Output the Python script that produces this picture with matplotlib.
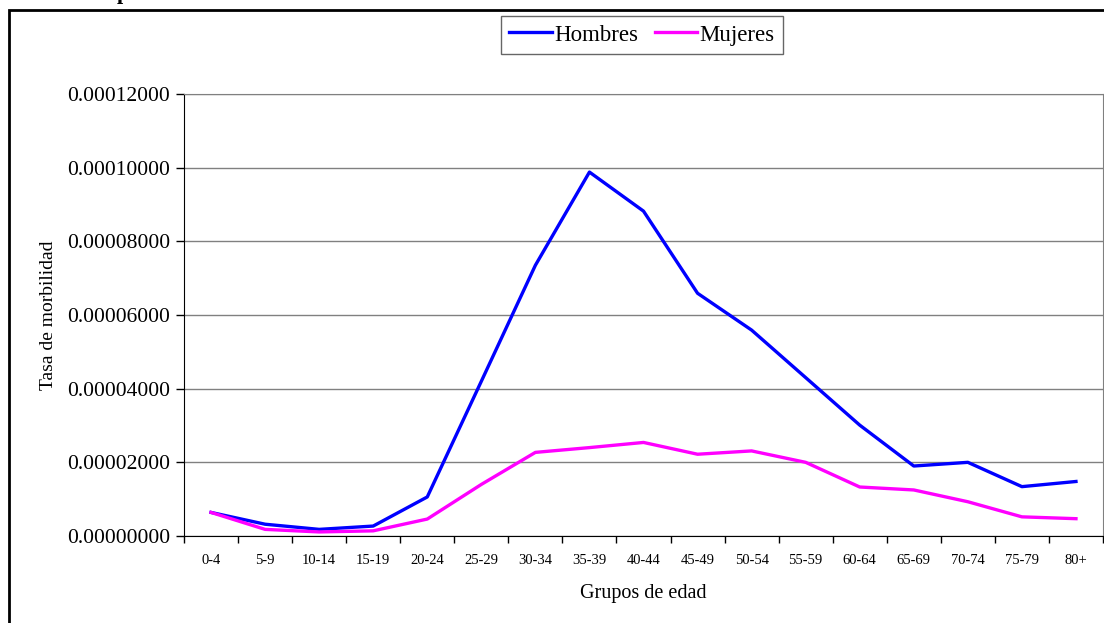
import numpy as np
import matplotlib.pyplot as plt
from matplotlib.patches import Rectangle

plt.rcParams['font.family'] = ['Liberation Serif', 'DejaVu Serif']

grupos = ["0-4", "5-9", "10-14", "15-19", "20-24", "25-29", "30-34", "35-39", "40-44",
          "45-49", "50-54", "55-59", "60-64", "65-69", "70-74", "75-79", "80+"]
hombres = [6.4e-6, 3.2e-6, 1.8e-6, 2.7e-6, 10.6e-6, 4.2e-5, 7.35e-5, 9.88e-5, 8.82e-5,
           6.59e-5, 5.59e-5, 4.3e-5, 3.01e-5, 1.9e-5, 2.0e-5, 1.34e-5, 1.48e-5]
mujeres = [6.4e-6, 1.8e-6, 1.1e-6, 1.4e-6, 4.6e-6, 1.4e-5, 2.27e-5, 2.4e-5, 2.54e-5,
           2.22e-5, 2.31e-5, 2.0e-5, 1.33e-5, 1.25e-5, 9.3e-6, 5.2e-6, 4.7e-6]
yticks = [0, 2e-5, 4e-5, 6e-5, 8e-5, 1e-4, 1.2e-4]

fig = plt.figure(figsize=(11.04, 6.23), dpi=100)
ax = fig.add_axes([184/1104, 87/623, (1103-184)/1104, (536-94)/623])

x = np.arange(len(grupos))
ax.plot(x, hombres, color='#0000ff', lw=2.4, label='Hombres')
ax.plot(x, mujeres, color='#ff00ff', lw=2.4, label='Mujeres')

ax.set_xlim(-0.5, len(grupos) - 0.5)
ax.set_ylim(0, 1.2e-4)
ax.set_yticks(yticks)
ax.set_yticklabels(["%.8f" % v for v in yticks], fontsize=15.5)
ax.yaxis.grid(True, color='#808080', lw=1)
ax.set_axisbelow(True)
ax.set_xticks(x)
ax.set_xticklabels(grupos, fontsize=10.5)
ax.set_xticks(np.arange(len(grupos) + 1) - 0.5, minor=True)
ax.tick_params(axis='x', which='major', length=0, pad=13)
ax.tick_params(axis='x', which='minor', length=5, direction='out', width=1)
ax.tick_params(axis='y', length=6, direction='out', width=1, pad=4)

for s in ['left', 'bottom']:
    ax.spines[s].set_color('black')
for s in ['top', 'right']:
    ax.spines[s].set_color('#808080')

ax.set_xlabel('Grupos de edad', fontsize=14.5, labelpad=12)
ax.set_ylabel('Tasa de morbilidad', fontsize=14, labelpad=7)

leg = ax.legend(loc='center', bbox_to_anchor=(642/1104, 1 - 35/623),
                bbox_transform=fig.transFigure, ncol=2, fontsize=16.5,
                frameon=True, fancybox=False, handlelength=1.85, handletextpad=0.1,
                columnspacing=0.75, borderpad=0.35, borderaxespad=0)
leg.get_frame().set_edgecolor('#404040')
leg.get_frame().set_linewidth(1)

# outer chart border
fig.patches.append(Rectangle((9/1104, -0.05), 1.1, 1.05 - 10/623, transform=fig.transFigure,
                             fill=False, edgecolor='black', lw=2, zorder=0))
# cropped title fragment
fig.text(117/1104, 1 + 1/623, 'p', fontsize=16, fontweight='bold', va='baseline')

fig.savefig('out.png', dpi=100)
